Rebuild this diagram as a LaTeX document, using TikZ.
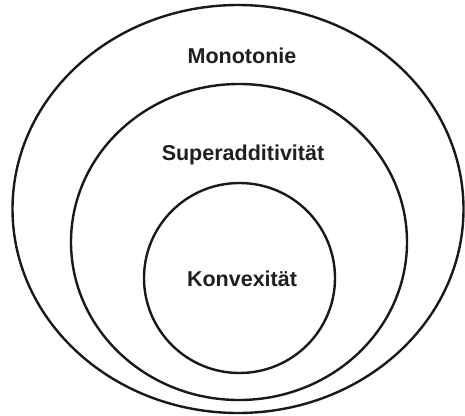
\documentclass[tikz,border=0pt]{standalone}
\usepackage{fontspec}
\setmainfont{Liberation Sans}
\begin{document}
\begin{tikzpicture}[x=1pt,y=-1pt,
  ring/.style={draw=black!90,line width=2.4pt},
  lbl/.style={font=\fontsize{21.5}{24}\selectfont\bfseries,text=black!88,inner sep=0pt}]
\useasboundingbox (0,0) rectangle (465,415);
% nested property sets
\draw[ring] (238,209) ellipse [x radius=225.5,y radius=204];
\draw[ring] (239,242) ellipse [x radius=168,y radius=158];
\draw[ring] (239.5,278) ellipse [x radius=95.5,y radius=95];
% labels
\node[lbl] (mono) at (242,56) {Monotonie};
\node[lbl] (super) at (243,155) {Superadditivität};
\node[lbl] (konv) at (242,279) {Konvexität};
\end{tikzpicture}
\end{document}
